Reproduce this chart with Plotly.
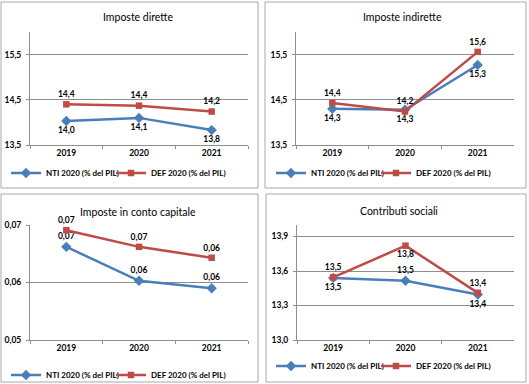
import plotly.graph_objects as go

W, H = 529, 384

years = ["2019", "2020", "2021"]
series_names = ["NTI 2020 (% del PIL)", "DEF 2020 (% del PIL)"]

titles = ["Imposte dirette", "Imposte indirette", "Imposte in conto capitale", "Contributi sociali"]

nti_dirette = [14.03, 14.10, 13.83]
def_dirette = [14.40, 14.37, 14.24]
nti_indirette = [14.30, 14.28, 15.27]
def_indirette = [14.43, 14.24, 15.56]
nti_capitale = [0.0662, 0.0603, 0.0590]
def_capitale = [0.0691, 0.0662, 0.0643]
nti_sociali = [13.54, 13.515, 13.395]
def_sociali = [13.545, 13.82, 13.41]

BLUE = "#4A7EBB"
RED = "#BE4B48"
GRID = "#8E8E8E"
BORDER = "#A8A8A8"
FONT = "Lato"


def xd(a, b):
    return [a / W, b / W]


def yd(top, bottom):
    return [1 - bottom / H, 1 - top / H]


panels = [
    dict(nti=nti_dirette, dfv=def_dirette, fmt=".1f", rng=[13.5, 16.0], tick0=13.5, dtick=1.0,
         pos_nti=["bottom center"] * 3, pos_def=["top center"] * 3,
         xdom=(30, 248), ydom=(32, 145), border=(1, 2, 258, 188), title_xy=(138, 17), leg=(6, 173)),
    dict(nti=nti_indirette, dfv=def_indirette, fmt=".1f", rng=[13.5, 16.0], tick0=13.5, dtick=1.0,
         pos_nti=["bottom center"] * 3, pos_def=["top center"] * 3,
         xdom=(296, 514), ydom=(32, 145), border=(265, 2, 526, 188), title_xy=(402, 17), leg=(271, 173)),
    dict(nti=nti_capitale, dfv=def_capitale, fmt=".2f", rng=[0.05, 0.07], tick0=0.05, dtick=0.01,
         pos_nti=["top center"] * 3, pos_def=["top center"] * 3,
         xdom=(30, 248), ydom=(225, 340), border=(1, 194, 258, 382), title_xy=(138, 212), leg=(6, 375)),
    dict(nti=nti_sociali, dfv=def_sociali, fmt=".1f", rng=[13.0, 14.0], tick0=13.0, dtick=0.3,
         pos_nti=["bottom center", "top center", "bottom center"],
         pos_def=["top center", "bottom center", "top center"],
         xdom=(297, 514), ydom=(225, 340), border=(266, 194, 526, 382), title_xy=(399, 211), leg=(271, 366)),
]

fig = go.Figure()
layout = dict(
    width=W, height=H, margin=dict(l=0, r=0, t=0, b=0, autoexpand=False),
    paper_bgcolor="white", plot_bgcolor="white",
    separators=",.", font=dict(family=FONT, color="black"),
    shapes=[], annotations=[],
)

for i, p in enumerate(panels):
    n = i + 1
    sfx = "" if n == 1 else str(n)
    xa, ya = "x" + sfx, "y" + sfx
    leg = "legend" + sfx
    for name, vals, color, sym, msize, pos, lw in [
        (series_names[0], p["nti"], BLUE, "diamond", 8, p["pos_nti"], 60),
        (series_names[1], p["dfv"], RED, "square", 6.5, p["pos_def"], 80),
    ]:
        fig.add_trace(go.Scatter(
            x=years, y=vals, name=name, xaxis=xa, yaxis=ya, legend=leg,
            legendwidth=lw,
            mode="lines+markers+text",
            line=dict(color=color, width=2.5),
            marker=dict(symbol=sym, size=msize, color=color),
            texttemplate="%{y:" + p["fmt"] + "}",
            textposition=pos,
            textfont=dict(family=FONT, size=8.5, color="black", weight="bold"),
            cliponaxis=False,
        ))
    layout["xaxis" + sfx] = dict(
        domain=xd(*p["xdom"]), anchor=ya, type="category", range=[-0.5, 2.5],
        showline=True, linecolor=GRID, linewidth=1, ticks="outside", ticklen=3,
        tickcolor=GRID, tickson="boundaries", showgrid=False,
        tickfont=dict(family=FONT, size=8.5, color="black", weight="bold"),
    )
    layout["yaxis" + sfx] = dict(
        domain=yd(*p["ydom"]), anchor=xa, range=p["rng"], tick0=p["tick0"], dtick=p["dtick"],
        tickformat=p["fmt"], showline=True, linecolor=GRID, linewidth=1,
        ticks="outside", ticklen=3, tickcolor=GRID, showgrid=True, gridcolor=GRID,
        gridwidth=1, zeroline=False, ticklabelstandoff=3,
        tickfont=dict(family=FONT, size=8.5, color="black", weight="bold"),
    )
    layout[leg] = dict(
        orientation="h", x=p["leg"][0] / W, y=1 - p["leg"][1] / H, xanchor="left", yanchor="middle",
        itemwidth=30, bgcolor="rgba(0,0,0,0)", borderwidth=0,
        font=dict(family=FONT, size=8, color="black", weight="bold"),
        tracegroupgap=0,
    )
    x0, y0, x1, y1 = p["border"]
    layout["shapes"].append(dict(
        type="rect", xref="paper", yref="paper", x0=x0 / W, x1=x1 / W,
        y0=1 - y1 / H, y1=1 - y0 / H, line=dict(color=BORDER, width=1), layer="below",
    ))
    tx, ty = p["title_xy"]
    layout["annotations"].append(dict(
        text=titles[i], xref="paper", yref="paper", x=tx / W, y=1 - ty / H,
        xanchor="center", yanchor="middle", showarrow=False,
        font=dict(family=FONT, size=10.5, color="black"),
    ))

fig.update_layout(**layout)
fig.write_html(
    "out.html",
    config={"displayModeBar": False},
    post_script="document.body.style.margin='0';document.body.style.padding='0';",
)
